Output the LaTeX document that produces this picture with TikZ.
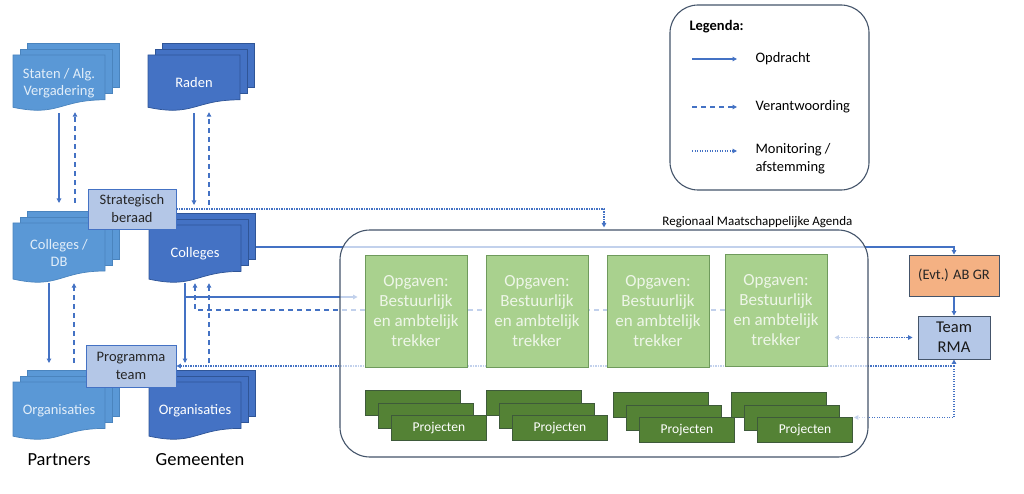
\documentclass[tikz,border=0pt]{standalone}
\usepackage{fontspec}
\setmainfont{Carlito}
\usetikzlibrary{arrows.meta,positioning}

\definecolor{partblue}{HTML}{5A98D6}
\definecolor{partline}{HTML}{4A84BE}
\definecolor{partext}{HTML}{E2EEF9}
\definecolor{gemblue}{HTML}{4472C4}
\definecolor{gemline}{HTML}{2F5597}
\definecolor{boxblue}{HTML}{B4C7E7}
\definecolor{linkblue}{HTML}{4472C4}
\definecolor{slate}{HTML}{44546A}
\definecolor{opgfill}{HTML}{A9D18E}
\definecolor{opgline}{HTML}{6F9A5C}
\definecolor{opgtext}{HTML}{EEF6E8}
\definecolor{projfill}{HTML}{548235}
\definecolor{projline}{HTML}{3E5A3A}
\definecolor{abgrfill}{HTML}{F4B183}

\pgfdeclarelayer{lines}
\pgfdeclarelayer{veil}
\pgfsetlayers{lines,veil,main}

\tikzset{
  >={Triangle[length=4.5pt,width=4.5pt]},
  opdr/.style={draw=linkblue, line width=1.1pt, ->},
  verantw/.style={opdr, dash pattern=on 5pt off 4pt},
  monit/.style={opdr, line width=1.3pt, dash pattern=on 1.4pt off 1.1pt},
  partdoc/.style={fill=partblue, draw=partline, text=partext},
  gemdoc/.style={fill=gemblue, draw=gemline, text=white},
  labelbox/.style={draw=linkblue, fill=boxblue, line width=0.9pt, align=center,
    text=black!85, font=\fontsize{14.5}{18}\selectfont, inner sep=1pt},
  opgbox/.style={draw=opgline, fill=opgfill, line width=0.9pt, minimum width=102pt,
    minimum height=112pt, align=center, text=opgtext, font=\fontsize{17}{20}\selectfont},
  projbox/.style={draw=projline, fill=projfill, line width=0.9pt, minimum width=95pt,
    minimum height=25pt, text=white, font=\fontsize{13.5}{15}\selectfont, anchor=north west},
  legtext/.style={anchor=west, align=left, font=\fontsize{14.5}{18}\selectfont},
}

\newcommand{\docstack}[6]{
  \foreach \k in {2,1} {
    \draw[#2, line width=0.7pt] (#3+7*\k, #4-6*\k) rectangle ++(92, 0.8*#5);
  }
  \draw[#2, line width=0.7pt] (#3,#4) -- ++(92,0) -- ++(0,0.8*#5)
    .. controls (#3+46, #4+0.8*#5) and (#3+46, #4+1.107*#5) .. (#3, #4+0.934*#5) -- cycle;
  \node[#2, draw=none, fill=none, minimum width=92pt, minimum height=#5 pt, align=center,
    font=\fontsize{14.5}{17}\selectfont] (#1) at (#3+46, #4+#5/2) {#6};
  \coordinate (#1-top) at (#3+46, #4-12);
}

\newcommand{\projstack}[3]{
  \node[projbox] (#1a) at (#2, #3) {};
  \node[projbox] (#1b) at (#2+13, #3+12.5) {};
  \node[projbox] (#1) at (#2+26, #3+25) {Projecten};
}

\begin{document}
\begin{tikzpicture}[x=1pt, y=-1pt]
  \useasboundingbox (0,0) rectangle (1024,494);

  \docstack{staten}{partdoc}{13}{55}{56}{Staten / Alg.\\Vergadering}
  \docstack{raden}{gemdoc}{148}{55}{56}{Raden}
  \docstack{colpar}{partdoc}{13}{223}{60}{Colleges /\\DB}
  \docstack{colgem}{gemdoc}{149}{225}{58}{Colleges}
  \docstack{orgpar}{partdoc}{13}{382}{58}{Organisaties}
  \docstack{orggem}{gemdoc}{149}{382}{58}{Organisaties}

  \node[labelbox, minimum width=88pt, minimum height=40pt] (strat) at (132,209) {Strategisch\\beraad};
  \node[labelbox, minimum width=90pt, minimum height=42pt] (progteam) at (131,366) {Programma\\team};

  \node[font=\fontsize{18.5}{22}\selectfont] (partners) at (59,460) {Partners};
  \node[font=\fontsize{18.5}{22}\selectfont] (gemeenten) at (200,460) {Gemeenten};

  \begin{pgfonlayer}{veil}
    \node[draw=slate, line width=1.1pt, fill=white, fill opacity=0.68, draw opacity=1,
      rounded corners=30pt, minimum width=528pt, minimum height=227pt] (agenda) at (604,343.5) {};
  \end{pgfonlayer}
  \node[anchor=south east, font=\fontsize{13}{15}\selectfont, inner sep=2pt] (agendalabel)
    at ([xshift=-14pt]agenda.north east) {Regionaal Maatschappelijke Agenda};

  \node[opgbox] (opg1) at (416,311) {Opgaven:\\Bestuurlijk\\en ambtelijk\\trekker};
  \node[opgbox] (opg2) at (537,311) {Opgaven:\\Bestuurlijk\\en ambtelijk\\trekker};
  \node[opgbox] (opg3) at (658,311) {Opgaven:\\Bestuurlijk\\en ambtelijk\\trekker};
  \node[opgbox] (opg4) at (776,310) {Opgaven:\\Bestuurlijk\\en ambtelijk\\trekker};

  \projstack{proj1}{365}{390}
  \projstack{proj2}{486}{390}
  \projstack{proj3}{613}{392}
  \projstack{proj4}{731}{392}

  \node[draw=slate, fill=abgrfill, line width=0.9pt, minimum width=90pt, minimum height=41pt,
    font=\fontsize{14.5}{17}\selectfont, text=black!85] (abgr) at (954,275.5) {(Evt.) AB GR};
  \node[draw=slate, fill=boxblue, line width=0.9pt, minimum width=72pt, minimum height=43pt,
    align=center, font=\fontsize{16.5}{20}\selectfont, text=black!90] (rma) at (954,337.5) {Team\\RMA};

  \node[draw=slate, line width=1.1pt, rounded corners=28pt, minimum width=199pt,
    minimum height=185pt] (legend) at (769.5,97.5) {};
  \node[anchor=west, font=\bfseries\fontsize{14.5}{17}\selectfont] (legtitle) at (686,27) {Legenda:};
  \node[legtext] (lopdr) at (752,59) {Opdracht};
  \node[legtext] (lverantw) at (752,107) {Verantwoording};
  \node[legtext] (lmonit) at (752,159) {Monitoring /\\afstemming};
  \coordinate (lg1) at (692,59);
  \coordinate (lg2) at (692,107);
  \coordinate (lg3) at (692,151);
  \draw[opdr] (lg1) -- ++(45,0);
  \draw[verantw] (lg2) -- ++(45,0);
  \draw[monit] (lg3) -- ++(45,0);

  \begin{pgfonlayer}{lines}
    \draw[opdr, shorten <=2pt, shorten >=8pt] (staten.south) -- (staten.south |- colpar-top);
    \draw[verantw, shorten <=8pt, shorten >=1pt] ([xshift=16pt]staten.south |- colpar-top) -- ([xshift=16pt]staten.south);
    \draw[opdr, shorten <=2pt, shorten >=8pt] (raden.south) -- (raden.south |- colgem-top);
    \draw[verantw, shorten <=8pt, shorten >=1pt] ([xshift=15pt]raden.south |- colgem-top) -- ([xshift=15pt]raden.south);

    \draw[opdr, shorten >=7pt] ([xshift=-10pt]colpar.south) -- ([xshift=-10pt]colpar.south |- orgpar-top);
    \draw[verantw, shorten <=7pt] ([xshift=15pt]colpar.south |- orgpar-top) -- ([xshift=15pt]colpar.south);
    \draw[opdr, shorten >=7pt] ([xshift=-10pt]colgem.south) -- ([xshift=-10pt]colgem.south |- orggem-top);
    \draw[verantw, shorten <=7pt] ([xshift=14pt]colgem.south |- orggem-top) -- ([xshift=14pt]colgem.south);

    \draw[opdr, shorten >=7pt] ([xshift=-10pt]colgem.south) |- ([yshift=14pt]opg1.west);
    \draw[verantw] (opg4.west) -| (colgem.south);
    \draw[opdr] ([xshift=15pt,yshift=7pt]colgem.east) -| (abgr.north);
    \draw[opdr] (abgr.south) -- (rma.north);

    \draw[monit, shorten >=2pt] (strat.east) -| (agenda.north);
    \coordinate (mhub) at (rma.south |- progteam.east);
    \draw[monit] (mhub) -- (progteam.east);
    \draw[monit] (mhub) -- (rma.south);
    \draw[monit, shorten >=14pt] (mhub) |- (proj4b.east);
    \draw[monit, <->, shorten <=7pt, shorten >=5pt] (rma.west -| opg4.east) -- (rma.west);
  \end{pgfonlayer}
\end{tikzpicture}
\end{document}
